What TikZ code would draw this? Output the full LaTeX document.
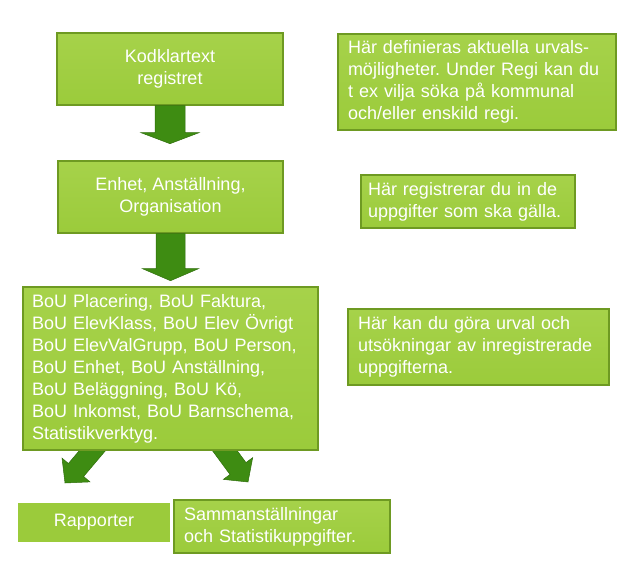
\documentclass[tikz,border=0pt]{standalone}
\usepackage{fontspec}
\setmainfont{Liberation Sans}
\frenchspacing
\usetikzlibrary{backgrounds,shadows}
\definecolor{boxfill}{HTML}{9BCB3B}
\definecolor{boxtop}{HTML}{A6D24A}
\definecolor{boxedge}{HTML}{6E9A22}
\definecolor{arrowfill}{HTML}{3E8C12}
\definecolor{arrowedge}{HTML}{2F6E0C}
\tikzset{
  gbox/.style={rectangle, top color=boxtop, bottom color=boxfill, draw=boxedge, line width=1.4pt,
    text=white, font=\fontsize{18}{22}\selectfont, inner ysep=0pt,
    drop shadow={shadow xshift=1.2pt, shadow yshift=-1.2pt, opacity=0.35}},
  plainbox/.style={rectangle, fill=boxfill, draw=none, text=white,
    font=\fontsize{18}{22}\selectfont, inner sep=0pt},
  barrow/.style={fill=arrowfill, draw=arrowedge, line width=0.5pt}
}
\begin{document}
\begin{tikzpicture}[x=1pt,y=-1pt]
\useasboundingbox (0,0) rectangle (629,560);

% left column
\node[gbox, minimum width=226pt, minimum height=72pt, align=center] (kod) at (170,69)
  {Kodklartext\\registret};
\node[gbox, minimum width=225pt, minimum height=72pt, align=center] (enh) at (170.5,197)
  {Enhet, Anställning,\\Organisation};
\node[gbox, minimum width=295pt, minimum height=163pt, text width=277pt, inner xsep=9pt, align=left] (bou) at (170.5,368.5)
  {BoU Placering, BoU Faktura,\\BoU ElevKlass, BoU Elev Övrigt\\BoU ElevValGrupp, BoU Person,\\BoU Enhet, BoU Anställning,\\BoU Beläggning, BoU Kö,\\BoU Inkomst, BoU Barnschema,\\Statistikverktyg.};

% bottom
\node[plainbox, minimum width=152pt, minimum height=39pt, align=center] (rap) at (94,522.5)
  {Rapporter};
\node[gbox, minimum width=216pt, minimum height=53pt, text width=196pt, inner xsep=10pt, align=left] (sam) at (282,526.5)
  {Sammanställningar\\och Statistikuppgifter.};

% right column
\node[gbox, minimum width=278pt, minimum height=96pt, text width=264pt, inner xsep=7pt, align=left] (r1) at (477,82)
  {\hspace*{3pt}Här definieras aktuella urvals-\\\hspace*{3pt}möjligheter. Under Regi kan du\\\hspace*{3pt}t ex vilja söka på kommunal\\\hspace*{3pt}och/eller enskild regi.};
\node[gbox, minimum width=214pt, minimum height=53pt, text width=200pt, inner xsep=7pt, align=left] (r2) at (468,201.5)
  {Här registrerar du in de\\uppgifter som ska gälla.};
\node[gbox, minimum width=261pt, minimum height=76pt, text width=241pt, inner xsep=10pt, align=left] (r3) at (478.5,347)
  {Här kan du göra urval och\\utsökningar av inregistrerade\\uppgifterna.};

% vertical block arrows
\draw[barrow] ([xshift=-15pt]kod.south) -- ++(30,0) -- ++(0,27) -- ++(14,0)
  -- ([yshift=-38pt]kod.south) -- ++(-29,-11) -- ++(14,0) -- cycle;
\draw[barrow] ([xshift=-14.5pt]enh.south) -- ++(29,0) -- ++(0,35) -- ++(13.5,0)
  -- ([yshift=-47pt]enh.south) -- ++(-28,-12) -- ++(13.5,0) -- cycle;

% diagonal block arrows (behind the big box)
\begin{scope}[on background layer]
\draw[barrow] (109.4,446) -- (83.6,476.5) -- (90.0,481.9) -- (65,483) -- (62.0,458.1)
  -- (68.4,463.5) -- (94.2,433) -- cycle;
\draw[barrow] (206.2,442.2) -- (230.0,474.5) -- (223.3,479.4) -- (248,482) -- (252.7,457.6)
  -- (246.0,462.6) -- (222.2,430.4) -- cycle;
\end{scope}
\end{tikzpicture}
\end{document}
